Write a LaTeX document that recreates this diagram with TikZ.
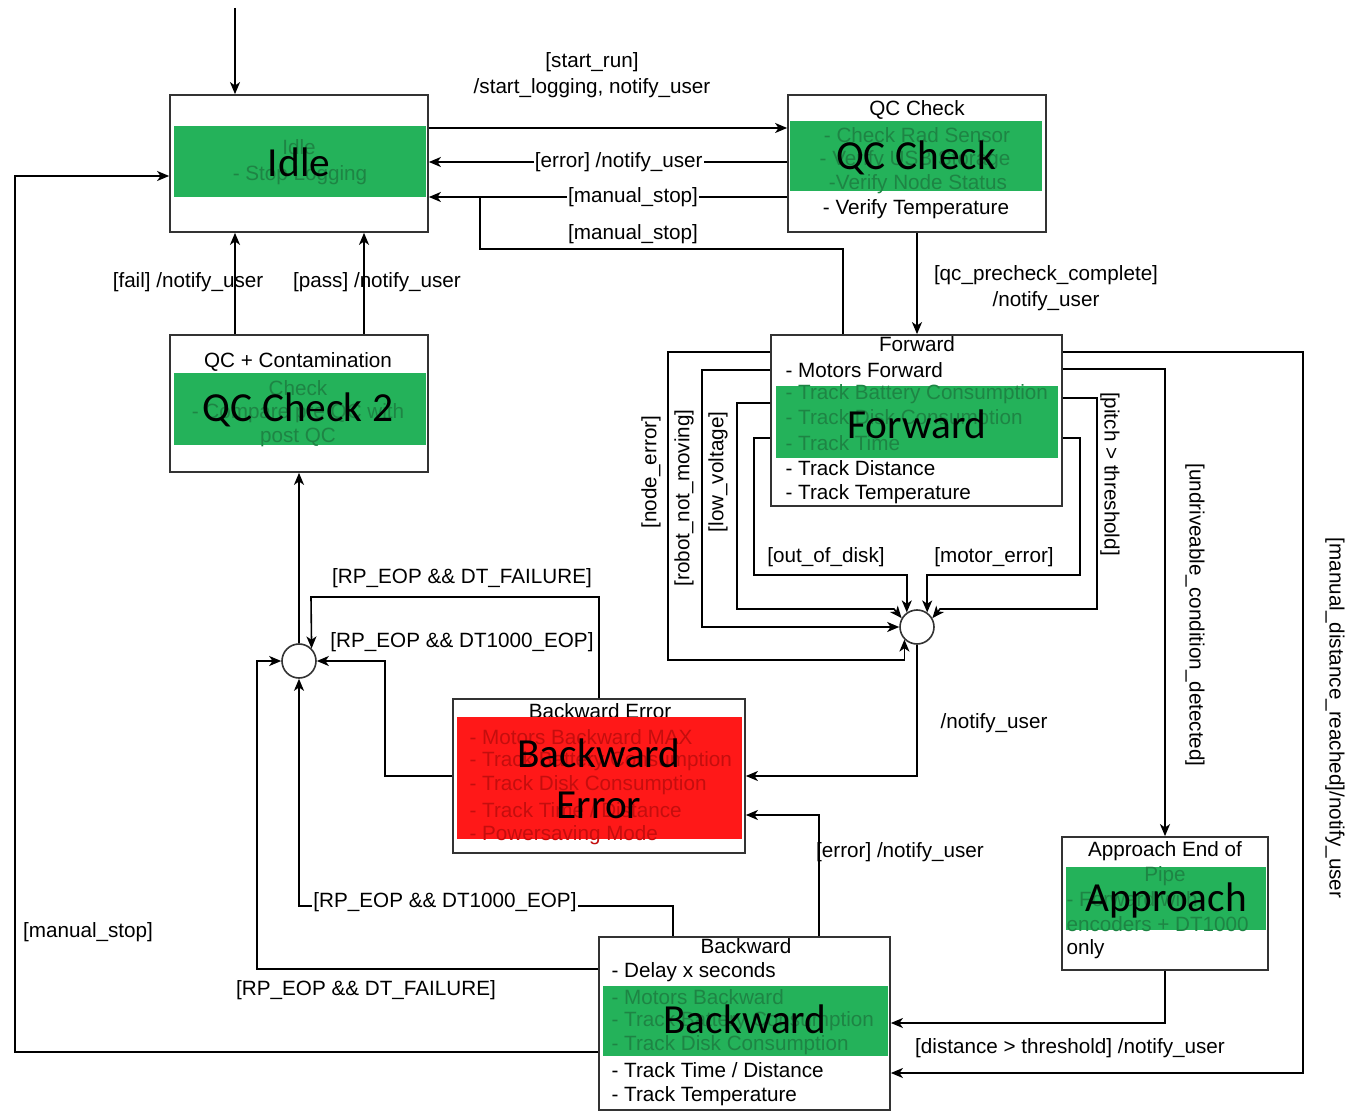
\documentclass[tikz,border=0pt]{standalone}
\usepackage{fontspec}
\setmainfont{Liberation Sans}
\newfontfamily\bigfont{Carlito}
\usetikzlibrary{arrows.meta}
\definecolor{bandgreen}{RGB}{36,178,90}
\definecolor{bandred}{RGB}{255,24,24}
\definecolor{fadegreen}{RGB}{30,132,68}
\definecolor{fadered}{RGB}{196,14,14}
\tikzset{
	statebox/.style 2 args={draw=black!80, line width=1.3pt, fill=white, inner sep=0pt, minimum width=#1*0.75pt, minimum height=#2*0.75pt},
	junction/.style={circle, draw=black!80, line width=1.2pt, fill=white, minimum size=25.5pt, inner sep=0pt},
	flow/.style={draw, line width=1.2pt, -{Stealth[length=9pt, width=7.5pt, inset=2.5pt]}},
	wire/.style={draw, line width=1.2pt},
	lbl/.style={font=\fontsize{15.5}{18}\selectfont, inner sep=1pt},
	fadeg/.style={lbl, text=fadegreen},
	fader/.style={lbl, text=fadered},
	big/.style={font=\bigfont\fontsize{31}{36}\selectfont, inner sep=0pt}
}
\begin{document}
\begin{tikzpicture}[x=0.75pt, y=-0.75pt]
		%%%%% START %%%%%
		\useasboundingbox (0,0) rectangle (1357,1112);
		
		% states
		\node[statebox={258}{137}] (idle) at (299,163.5) {};
		\node[statebox={258}{137}] (qc) at (917,163.5) {};
		\node[statebox={258}{137}] (qc2) at (299,403.5) {};
		\node[statebox={291}{171}] (fwd) at (916.5,420.5) {};
		\node[statebox={292}{154}] (bwe) at (599,776) {};
		\node[statebox={291}{173}] (bwd) at (744.5,1023.5) {};
		\node[statebox={206}{133}] (app) at (1165,903.5) {};
		\node[junction] (J1) at (917,627) {};
		\node[junction] (J2) at (299,661) {};
		
		% Idle
		\fill[bandgreen] (174,126) rectangle (426,197);
		\node[fadeg] (idleT1) at (299,147) {Idle};
		\node[fadeg] (idleT2) at (300,175) {- Stop Logging};
		\node[big] (idleB) at (299,162) {Idle};
		
		% QC Check
		\fill[bandgreen] (790,121) rectangle (1042,191);
		\node[lbl] (qcT0) at (917,110) {QC Check};
		\node[fadeg] (qcT1) at (917,135) {- Check Rad Sensor};
		\node[fadeg] (qcT2) at (915,160) {- Verify USB Storage};
		\node[fadeg] (qcT3) at (918,184) {-Verify Node Status};
		\node[lbl] (qcT4) at (916,209) {- Verify Temperature};
		\node[big] (qcB) at (916,158) {QC Check};
		
		% QC + Contamination
		\fill[bandgreen] (174,373) rectangle (426,445);
		\node[lbl] (qc2T0) at (298,362) {QC + Contamination};
		\node[fadeg] (qc2T1) at (298,388) {Check};
		\node[fadeg] (qc2T2) at (298,413) {- Compare pre QC with};
		\node[fadeg] (qc2T3) at (298,437) {post QC};
		\node[big] (qc2B) at (298,410) {QC Check 2};
		
		% Forward
		\fill[bandgreen] (776,386) rectangle (1058,458);
		\node[lbl] (fwdT0) at (917,344) {Forward};
		\node[lbl, anchor=west] (fwdT1) at (784,370) {- Motors Forward};
		\node[fadeg, anchor=west] (fwdT2) at (784,394) {- Track Battery Consumption};
		\node[fadeg, anchor=west] (fwdT3) at (784,419) {- Track Disk Consumption};
		\node[fadeg, anchor=west] (fwdT4) at (784,443) {- Track Time};
		\node[lbl, anchor=west] (fwdT5) at (784,468) {- Track Distance};
		\node[lbl, anchor=west] (fwdT6) at (784,494) {- Track Temperature};
		\node[big] (fwdB) at (917,424) {Forward};
		
		% Backward Error
		\node[lbl] (bweT0) at (600,711) {Backward Error};
		\fill[bandred] (457,717) rectangle (742,839);
		\node[fader, anchor=west] (bweT1) at (468,737) {- Motors Backward MAX};
		\node[fader, anchor=west] (bweT2) at (468,761) {- Track Battery Consumption};
		\node[fader, anchor=west] (bweT3) at (468,785) {- Track Disk Consumption};
		\node[fader, anchor=west] (bweT4) at (468,810) {- Track Time / Distance};
		\node[fader, anchor=west] (bweT5) at (468,835) {- Powersaving Mode};
		\node[big] (bweB1) at (599,753) {Backward};
		\node[big] (bweB2) at (599,805) {Error};
		
		% Backward
		\fill[bandgreen] (603,986) rectangle (888,1056);
		\node[lbl] (bwdT0) at (746,946) {Backward};
		\node[lbl, anchor=west] (bwdT1) at (610,972) {- Delay x seconds};
		\node[fadeg, anchor=west] (bwdT2) at (610,997) {- Motors Backward};
		\node[fadeg, anchor=west] (bwdT3) at (610,1021) {- Track Battery Consumption};
		\node[fadeg, anchor=west] (bwdT4) at (610,1045) {- Track Disk Consumption};
		\node[lbl, anchor=west] (bwdT5) at (610,1070) {- Track Time / Distance};
		\node[lbl, anchor=west] (bwdT6) at (610,1096) {- Track Temperature};
		\node[big] (bwdB) at (745,1019) {Backward};
		
		% Approach End of Pipe
		\fill[bandgreen] (1066,867) rectangle (1266,930);
		\node[lbl] (appT0) at (1165,851) {Approach End of};
		\node[fadeg] (appT1) at (1165,876) {Pipe};
		\node[fadeg, anchor=west] (appT2) at (1065,899) {- Forward with};
		\node[fadeg, anchor=west] (appT3) at (1065,924) {encoders + DT1000};
		\node[lbl, anchor=west] (appT4) at (1065,949) {only};
		\node[big] (appB) at (1166,900) {Approach};
		
		%%%%% TRANSITIONS %%%%%
		
		\draw[flow] (235,8) -- (235,0 |- idle.north);
		\draw[flow] (idle.east |- 0,128) -- (qc.west |- 0,128);
		\node[lbl] (lStart1) at (592,62) {[start\_run]};
		\node[lbl] (lStart2) at (592,88) {/start\_logging, notify\_user};
		
		\draw[flow] (qc.west |- 0,162) -- node[lbl, fill=white, pos=0.47] (lErr) {[error] /notify\_user} (idle.east |- 0,162);
		\draw[flow] (qc.west |- 0,197) -- node[lbl, fill=white, pos=0.43] (lStop1) {[manual\_stop]} (idle.east |- 0,197);
		\draw[wire] (fwd.north -| 843,0) |- (480,249) -- (480,197);
		\node[lbl] (lStop2) at (633,234) {[manual\_stop]};
		
		\draw[flow] (qc.south) -- (qc.south |- fwd.north);
		\node[lbl] (lPre1) at (1046,275) {[qc\_precheck\_complete]};
		\node[lbl] (lPre2) at (1046,301) {/notify\_user};
		
		\draw[flow] (qc2.north -| 235,0) -- (idle.south -| 235,0);
		\draw[flow] (qc2.north -| 364,0) -- (idle.south -| 364,0);
		\node[lbl] (lFail) at (188,282) {[fail] /notify\_user};
		\node[lbl] (lPass) at (377,282) {[pass] /notify\_user};
		
		\draw[flow] (J2.north) -- (qc2.south);
		\draw[flow] (bwe.north) |- (311,597) -- (J2.45);
		\node[lbl] (lFailA) at (462,578) {[RP\_EOP \&\& DT\_FAILURE]};
		\draw[flow] (bwe.west |- 0,776) -| (385,661) -- (J2.east);
		\node[lbl] (lEopA) at (462,642) {[RP\_EOP \&\& DT1000\_EOP]};
		\draw[flow] (bwd.north -| 673,0) |- (299,906) -- (J2.south);
		\node[lbl, fill=white] (lEopB) at (445,902) {[RP\_EOP \&\& DT1000\_EOP]};
		\draw[flow] (bwd.west |- 0,969) -| (257,661) -- (J2.west);
		\node[lbl] (lFailB) at (366,990) {[RP\_EOP \&\& DT\_FAILURE]};
		
		\draw[flow] (bwd.west |- 0,1052) -| (15,176) -- (idle.west |- 0,176);
		\node[lbl] (lStop3) at (88,932) {[manual\_stop]};
		
		\draw[flow] (bwd.north -| 819,0) |- (bwe.east |- 0,815);
		\node[lbl] (lErr2) at (900,852) {[error] /notify\_user};
		\draw[flow] (J1.south) |- (bwe.east |- 0,776);
		\node[lbl] (lNote) at (994,723) {/notify\_user};
		
		% Forward -> junction
		\draw[flow] (fwd.west |- 0,352) -| (668,660) -| (J1.225);
		\node[lbl, rotate=90] (lNode) at (651,472) {[node\_error]};
		\draw[flow] (fwd.west |- 0,370) -| (702,627) -- (J1.west);
		\node[lbl, rotate=90] (lRobot) at (684,498) {[robot\_not\_moving]};
		\draw[flow] (fwd.west |- 0,403) -| (737,609) -- (894,609) -- (J1.150);
		\node[lbl, rotate=90] (lVolt) at (718,472) {[low\_voltage]};
		\draw[flow] (fwd.west |- 0,438) -| (754,575) -| (J1.125);
		\node[lbl] (lDisk) at (826,557) {[out\_of\_disk]};
		\draw[flow] (fwd.east |- 0,438) -| (1080,575) -| (J1.55);
		\node[lbl] (lMotor) at (994,557) {[motor\_error]};
		\draw[flow] (fwd.east |- 0,398) -| (1097,609) -- (940,609) -- (J1.30);
		\node[lbl, rotate=-90] (lPitch) at (1110,474) {[pitch > threshold]};
		
		\draw[flow] (fwd.east |- 0,369) -| (app.north);
		\node[lbl, rotate=-90] (lUndrive) at (1195,615) {[undriveable\_condition\_detected]};
		\draw[flow] (fwd.east |- 0,352) -| (1303,1073) -- (bwd.east |- 0,1073);
		\node[lbl, rotate=-90] (lManual) at (1335,718) {[manual\_distance\_reached]/notify\_user};
		\draw[flow] (app.south) |- (bwd.east |- 0,1023);
		\node[lbl] (lDist) at (1070,1048) {[distance > threshold] /notify\_user};
		
		%%%%% END %%%%%
\end{tikzpicture}
\end{document}
